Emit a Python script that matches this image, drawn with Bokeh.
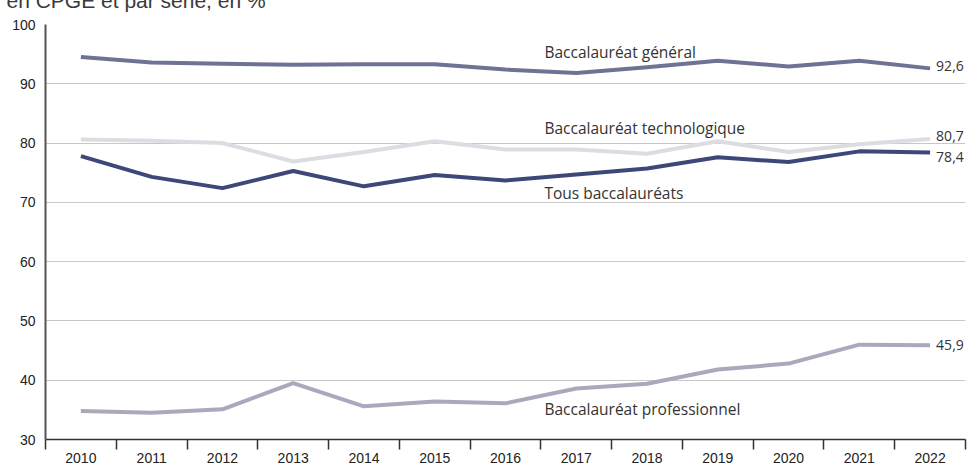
from bokeh.plotting import figure
from bokeh.models import Range1d, FixedTicker
from bokeh.core.properties import value
from bokeh.embed import file_html
from bokeh.resources import INLINE

years = [2010, 2011, 2012, 2013, 2014, 2015, 2016, 2017, 2018, 2019, 2020, 2021, 2022]
general = [94.5, 93.6, 93.4, 93.2, 93.3, 93.3, 92.4, 91.8, 92.8, 93.9, 92.9, 93.9, 92.6]
techno = [80.6, 80.4, 80.0, 76.9, 78.5, 80.3, 78.9, 78.9, 78.2, 80.3, 78.5, 79.8, 80.7]
tous = [77.8, 74.3, 72.4, 75.3, 72.7, 74.6, 73.7, 74.7, 75.7, 77.6, 76.8, 78.6, 78.4]
pro = [34.8, 34.5, 35.1, 39.5, 35.6, 36.4, 36.1, 38.6, 39.4, 41.8, 42.8, 46.0, 45.9]

series_names = ["Baccalauréat général", "Baccalauréat technologique", "Tous baccalauréats", "Baccalauréat professionnel"]
series_values = [general, techno, tous, pro]
series_colors = ["#6e7293", "#dcdde2", "#3e4878", "#a8aabc"]
end_labels = ["92,6", "80,7", "78,4", "45,9"]
name_label_y = [95.3, 82.6, 71.5, 35.2]
end_label_y = [93.0, 81.2, 77.6, 45.9]
y_ticks = [30, 40, 50, 60, 70, 80, 90, 100]
subtitle = "en CPGE et par série, en %"

label_font = "Open Sans"
axis_font = "Liberation Sans"
SHIFT = 30
TOP, BOTTOM, LEFT = 24 + SHIFT, 41, 45
H = 480 + SHIFT

p = figure(width=968, height=H, output_backend="svg", toolbar_location=None,
           x_range=Range1d(2009.5, 2022.5), y_range=Range1d(30, 100),
           min_border_left=LEFT, min_border_right=3, min_border_top=TOP, min_border_bottom=BOTTOM)
p.styles = {"margin-top": f"-{SHIFT}px"}
p.outline_line_color = None
p.background_fill_color = "white"
p.border_fill_color = "white"

# subtitle (its upper part falls outside the page, as in the reference)
p.title.text = subtitle
p.title.text_font = axis_font
p.title.text_font_size = "21px"
p.title.text_font_style = "normal"
p.title.text_color = "#3a3a3a"
p.title.offset = 6 - LEFT
p.title.standoff = 25

# x axis: labels at centers, tick marks at boundaries
xt = FixedTicker(ticks=years, minor_ticks=[y - 0.5 for y in years] + [years[-1] + 0.5])
p.xaxis.ticker = xt
p.xaxis.major_tick_out = 0
p.xaxis.major_tick_in = 0
p.xaxis.minor_tick_out = 10
p.xaxis.minor_tick_in = 0
p.xaxis.minor_tick_line_color = "#333333"
p.xaxis.minor_tick_line_width = 1.5
p.xaxis.axis_line_color = "#333333"
p.xaxis.axis_line_width = 1.5
p.xaxis.major_label_standoff = 3
p.xaxis.major_label_text_font = axis_font
p.xaxis.major_label_text_font_size = "14px"
p.xaxis.major_label_text_color = "#222222"
p.xaxis.major_label_overrides = {y: str(y) for y in years}

p.yaxis.ticker = FixedTicker(ticks=y_ticks)
p.yaxis.major_tick_out = 0
p.yaxis.major_tick_in = 0
p.yaxis.minor_tick_out = 0
p.yaxis.minor_tick_in = 0
p.yaxis.axis_line_color = "#555555"
p.yaxis.axis_line_width = 2
p.yaxis.major_label_standoff = 10
p.yaxis.major_label_text_font = axis_font
p.yaxis.major_label_text_font_size = "14px"
p.yaxis.major_label_text_color = "#222222"

p.xgrid.grid_line_color = None
p.ygrid.ticker = FixedTicker(ticks=y_ticks)
p.ygrid.grid_line_color = "#c8c8c8"
p.ygrid.grid_line_width = 1

order = [1, 3, 0, 2]
for i in order:
    p.line(years, series_values[i], line_color=series_colors[i], line_width=4, line_join="round")

for i in range(4):
    p.text(x=[2016.55], y=[name_label_y[i]], text=[series_names[i]],
           text_font=value(label_font), text_font_size="15.5px", text_color="#333333",
           text_align="left", text_baseline="middle")
    p.text(x=[years[-1]], y=[end_label_y[i]], text=[end_labels[i]], x_offset=6,
           text_font=value(label_font), text_font_size="14px", text_color="#333333",
           text_align="left", text_baseline="middle")

open("out.html", "w").write(file_html(p, INLINE))
